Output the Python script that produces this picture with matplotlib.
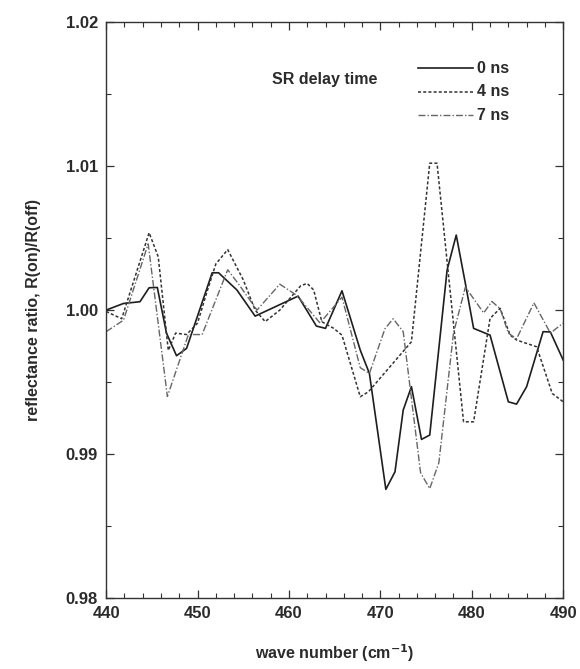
import matplotlib
matplotlib.use("Agg")
import matplotlib.pyplot as plt
from matplotlib.ticker import MultipleLocator

plt.rcParams["font.family"] = ["Liberation Sans", "DejaVu Sans"]

# 0 ns (solid)
x_0ns = [440, 441.9, 443.7, 444.7, 445.6, 446.6, 447.7, 448.8, 451.6, 452.3,
         454.3, 456.3, 461.0, 463.0, 464.0, 465.8, 467.8, 468.8, 470.6, 471.6,
         472.5, 473.4, 474.5, 475.4, 477.3, 478.3, 479.3, 480.2, 482.0, 484.0,
         484.9, 486.0, 487.8, 488.6, 490]
y_0ns = [1.0000, 1.00046, 1.00058, 1.00155, 1.00157, 0.9984, 0.99683, 0.99734, 1.00259, 1.00259,
         1.0014, 0.99958, 1.00097, 0.99889, 0.99873, 1.00134, 0.99722, 0.99560, 0.98755, 0.98877,
         0.99306, 0.99468, 0.99102, 0.99132, 1.00278, 1.00521, 1.00185, 0.99873, 0.99826, 0.99363,
         0.99347, 0.99468, 0.99850, 0.99848, 0.99653]

# 4 ns (short dashes)
x_4ns = [440, 441.7, 444.7, 445.7, 446.8, 447.6, 448.8, 450.0, 451.0, 452.0,
         453.3, 455.0, 456.3, 457.4, 459.0, 461.3, 462.0, 462.7, 463.6, 464.9,
         465.8, 467.8, 468.7, 473.4, 475.4, 476.2, 479.1, 480.2, 482.0, 483.1,
         484.2, 484.9, 487.1, 488.8, 490]
y_4ns = [0.9999, 0.9994, 1.00537, 1.0037, 0.9972, 0.9984, 0.9983, 0.9991, 1.0012, 1.0032,
         1.0042, 1.0021, 1.0000, 0.9992, 1.0000, 1.0017, 1.00185, 1.0014, 0.99919, 0.99873,
         0.99826, 0.99398, 0.99433, 0.9978, 1.0102, 1.0102, 0.99224, 0.99224, 0.99942, 1.00012,
         0.99826, 0.99792, 0.99745, 0.99421, 0.99363]

# 7 ns (dash-dot)
x_7ns = [440, 441.9, 444.6, 446.7, 449.0, 450.5, 453.3, 454.5, 456.5, 459.0,
         460.9, 463.4, 465.8, 467.8, 468.8, 470.5, 471.4, 472.5, 474.4, 475.4,
         476.4, 478.0, 479.3, 481.3, 482.2, 483.1, 484.0, 484.9, 486.8, 488.6, 490]
y_7ns = [0.9985, 0.9993, 1.0046, 0.9940, 0.9983, 0.9983, 1.0028, 1.0018, 1.0000, 1.0018,
         1.0010, 0.9991, 1.0009, 0.9960, 0.9956, 0.9987, 0.9994, 0.9985, 0.9887, 0.9876,
         0.9894, 0.9984, 1.0016, 0.9998, 1.0006, 1.0001, 0.9984, 0.9980, 1.0005, 0.9984, 0.9991]

LABELS = ["0 ns", "4 ns", "7 ns"]
TXT = "#2b2b2b"

fig = plt.figure(figsize=(5.8, 6.69), dpi=100)
ax = fig.add_axes([0.183, 0.106, 0.788, 0.861])

ax.plot(x_0ns, y_0ns, color="#1e1e1e", lw=1.2, ls="-")
ax.plot(x_4ns, y_4ns, color="#333333", lw=1.1, ls=(0, (2.0, 1.4)))
ax.plot(x_7ns, y_7ns, color="#666666", lw=1.0, ls=(0, (5.0, 1.5, 1.0, 1.5)))

ax.set_xlim(440, 490)
ax.set_ylim(0.98, 1.02)
ax.xaxis.set_major_locator(MultipleLocator(10))
ax.xaxis.set_minor_locator(MultipleLocator(2))
ax.yaxis.set_major_locator(MultipleLocator(0.01))
ax.yaxis.set_minor_locator(MultipleLocator(0.005))
ax.yaxis.set_major_formatter(plt.FuncFormatter(lambda v, p: f"{v:.2f}"))
ax.tick_params(which="both", direction="in", top=True, right=True,
               color="#333333", labelcolor=TXT)
ax.tick_params(which="major", length=6, width=0.9, labelsize=12, pad=6)
ax.tick_params(which="minor", length=3.5, width=0.8)
for lab in ax.get_xticklabels() + ax.get_yticklabels():
    lab.set_fontweight("bold")
for sp in ax.spines.values():
    sp.set_color("#333333")
    sp.set_linewidth(1.0)

ax.set_xlabel("wave number (cm$^{\\mathbf{-1}}$)", fontsize=11.5, fontweight="bold",
              color=TXT, labelpad=15)
ax.set_ylabel("reflectance ratio, R(on)/R(off)", fontsize=11.5, fontweight="bold",
              color=TXT, labelpad=18)

# legend drawn by hand, as in the original
ax.text(0.479, 0.9, "SR delay time", transform=ax.transAxes, ha="center",
        va="center", fontsize=11.5, fontweight="bold", color=TXT)
styles = [dict(color="#1e1e1e", lw=1.2, ls="-"),
          dict(color="#333333", lw=1.1, ls=(0, (2.0, 1.4))),
          dict(color="#666666", lw=1.0, ls=(0, (5.0, 1.5, 1.0, 1.5)))]
for k, (lab, st) in enumerate(zip(LABELS, styles)):
    yy = 0.92 - k * 0.041
    ax.plot([0.683, 0.803], [yy, yy], transform=ax.transAxes, **st)
    ax.text(0.812, yy, lab, transform=ax.transAxes, ha="left", va="center",
            fontsize=11.5, fontweight="bold", color=TXT)

fig.savefig("out.png", dpi=100)
